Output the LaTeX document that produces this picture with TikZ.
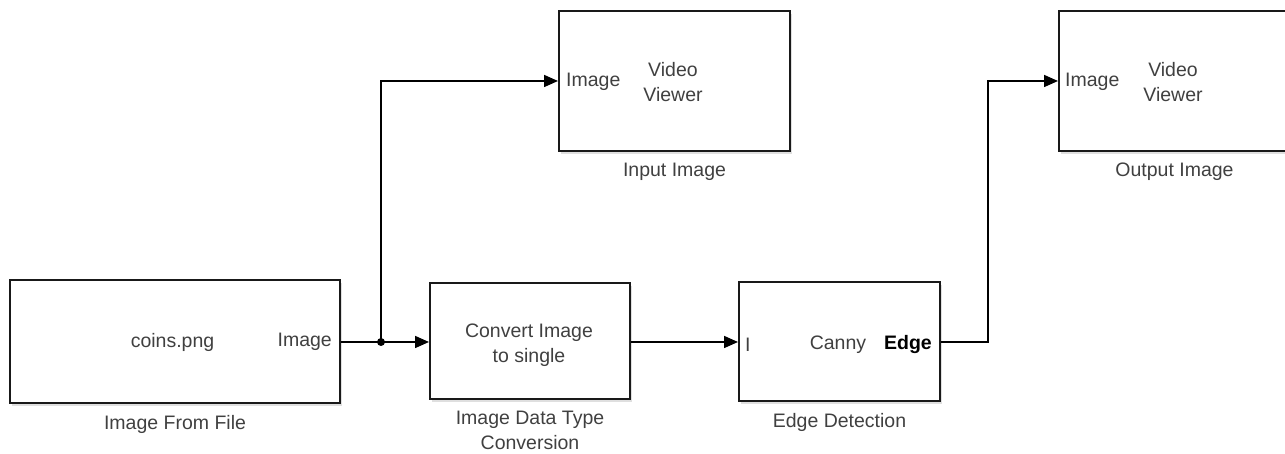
\documentclass[tikz,border=0pt]{standalone}
\usepackage{fontspec}
\setmainfont{Liberation Sans}
\usepackage{tikz}
\usetikzlibrary{positioning, arrows.meta, shadows}

\begin{document}
\begin{tikzpicture}[
    x=1pt, y=1pt,
    every node/.style={font=\fontsize{19.5}{24.5}\selectfont, text=black!75},
    block/.style={draw=black!90, line width=2pt, fill=white, minimum width=#1, inner sep=0pt,
      drop shadow={shadow xshift=2pt, shadow yshift=-3pt, opacity=0.25}},
    port/.style={inner sep=0pt},
    title/.style={inner sep=0pt, align=center},
    wire/.style={-{Triangle[length=14pt, width=12pt]}, line width=1.6pt},
  ]

  \useasboundingbox (0,0) rectangle (1285,454);

  % --- Source ---
  \node[block=330pt, minimum height=123pt] (src) at (175,112.5) {};
  \node[port] (srcname) at (172.5,111.5) {coins.png};
  \node[port, anchor=east] (srcout) at (332,112) {Image};
  \node[title, below=11pt of src] (srctitle) {Image From File};

  % --- Data type conversion ---
  \node[block=200pt, minimum height=116pt] (conv) at (530,113) {};
  \node[title] (convname) at (529,109) {Convert Image\\to single};
  \node[title, below=11pt of conv] (convtitle) {Image Data Type\\Conversion};

  % --- Edge detection ---
  \node[block=201pt, minimum height=119pt] (edge) at (839.5,112.5) {};
  \node[port, anchor=west] (edgein) at (745,109) {I};
  \node[port] (edgename) at (838,109) {Canny};
  \node[port, anchor=east, text=black] (edgeout) at (932,109) {\bfseries Edge};
  \node[title, below=11pt of edge] (edgetitle) {Edge Detection};

  % --- Viewers ---
  \node[block=231pt, minimum height=140pt] (inview) at (674.5,373) {};
  \node[port, anchor=west] (inviewin) at (566,372) {Image};
  \node[title] (inviewname) at (673,372) {Video\\Viewer};
  \node[title, below=11pt of inview] (inviewtitle) {Input Image};

  \node[block=231pt, minimum height=140pt] (outview) at (1174.5,373) {};
  \node[port, anchor=west] (outviewin) at (1065,372) {Image};
  \node[title] (outviewname) at (1173,372) {Video\\Viewer};
  \node[title, below=11pt of outview] (outviewtitle) {Output Image};

  % --- Wires ---
  \coordinate (split) at (381,112);
  \coordinate (bend) at (988,112);

  \draw[wire] (src.east |- split) -- (conv.west |- split);
  \draw[wire] (split) |- (inview.west);
  \fill (split) circle (4pt);

  \draw[wire] (conv.east |- split) -- (edge.west |- split);
  \draw[wire] (edge.east |- bend) -- (bend) |- (outview.west);

\end{tikzpicture}
\end{document}
